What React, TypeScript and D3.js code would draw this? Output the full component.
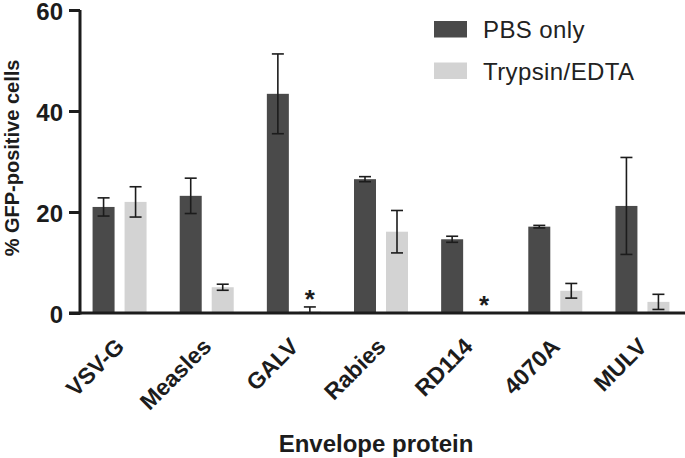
import React, { useEffect, useRef } from 'react';
import * as d3 from 'd3';

const categories = ['VSV-G', 'Measles', 'GALV', 'Rabies', 'RD114', '4070A', 'MULV'];
const seriesNames = ['PBS only', 'Trypsin/EDTA'];
const pbsMean = [21.0, 23.2, 43.4, 26.5, 14.6, 17.1, 21.2];
const pbsErr = [1.8, 3.5, 7.9, 0.5, 0.6, 0.25, 9.6];
const trypMean = [22.0, 5.1, 0.3, 16.1, 0, 4.4, 2.2];
const trypErr = [3.0, 0.6, 0.9, 4.2, 0, 1.45, 1.5];
const starred = ['GALV', 'RD114'];
const yTicks = [0, 20, 40, 60];

const colors = ['#4a4a4a', '#d3d3d3'];
const font = '"Liberation Sans", Arial, sans-serif';
const ink = '#1c1c1c';

const App = () => {
  const ref = useRef<SVGSVGElement>(null);

  useEffect(() => {
    const svg = d3.select(ref.current);
    svg.selectAll('*').remove();

    const x = d3.scaleBand().domain(categories).range([76, 686]);
    const inner = d3.scaleBand().domain(seriesNames).range([0, 54]).paddingInner(0.3125);
    const off = (x.bandwidth() - 54) / 2;
    const y = d3.scaleLinear().domain([0, 60]).range([313, 10]);

    const rows = categories.flatMap((c, i) => [
      { cat: c, s: seriesNames[0], v: pbsMean[i], e: pbsErr[i], k: 0 },
      { cat: c, s: seriesNames[1], v: trypMean[i], e: trypErr[i], k: 1 },
    ]);
    const bx = d => x(d.cat)! + off + inner(d.s)!;

    // bars
    svg.append('g').selectAll('rect')
      .data(rows)
      .join('rect')
        .attr('x', d => bx(d))
        .attr('y', d => y(d.v))
        .attr('width', inner.bandwidth())
        .attr('height', d => y(0) - y(d.v))
        .attr('fill', d => colors[d.k]);

    // error bars
    const eb = svg.append('g')
      .attr('stroke', ink)
      .attr('stroke-width', 1.6)
      .selectAll('g')
      .data(rows.filter(d => d.e > 0))
      .join('g')
        .attr('transform', d => `translate(${bx(d) + inner.bandwidth() / 2},0)`);
    eb.append('line')
      .attr('y1', d => y(d.v + d.e))
      .attr('y2', d => y(Math.max(0, d.v - d.e)));
    eb.append('line')
      .attr('x1', -6).attr('x2', 6)
      .attr('y1', d => y(d.v + d.e)).attr('y2', d => y(d.v + d.e));
    eb.filter(d => d.v - d.e > 0).append('line')
      .attr('x1', -6).attr('x2', 6)
      .attr('y1', d => y(d.v - d.e)).attr('y2', d => y(d.v - d.e));

    // significance stars
    svg.append('g').selectAll('text')
      .data(rows.filter(d => d.k === 1 && starred.includes(d.cat)))
      .join('text')
        .attr('x', d => bx(d) + inner.bandwidth() / 2)
        .attr('y', d => y(d.v + d.e) + 1)
        .attr('text-anchor', 'middle')
        .attr('font-family', font)
        .attr('font-size', 26)
        .attr('font-weight', 'bold')
        .attr('fill', ink)
        .text('*');

    // y axis
    const ya = svg.append('g')
      .attr('transform', 'translate(80,0)')
      .call(d3.axisLeft(y).tickValues(yTicks).tickSize(11).tickPadding(6));
    ya.select('.domain').attr('stroke', ink).attr('stroke-width', 3).attr('d', `M0,${y(60)}V${y(0) + 1.5}`);
    ya.selectAll('.tick line').attr('stroke', ink).attr('stroke-width', 3);
    ya.selectAll('.tick text')
      .attr('font-family', font).attr('font-size', 24).attr('font-weight', 'bold').attr('fill', ink)
      .attr('dy', '0.38em');

    // x axis
    svg.append('line')
      .attr('x1', 69).attr('x2', 685)
      .attr('y1', y(0)).attr('y2', y(0))
      .attr('stroke', ink).attr('stroke-width', 3);

    svg.append('g').selectAll('text')
      .data(categories)
      .join('text')
        .attr('transform', d => `translate(${x(d)! + x.bandwidth() / 2 + 6},348) rotate(-45)`)
        .attr('text-anchor', 'end')
        .attr('font-family', font)
        .attr('font-size', 23)
        .attr('font-weight', 'bold')
        .attr('fill', ink)
        .text(d => d);

    // axis titles
    svg.append('text')
      .attr('transform', 'translate(19,158) rotate(-90)')
      .attr('text-anchor', 'middle')
      .attr('font-family', font).attr('font-size', 20).attr('font-weight', 'bold').attr('fill', ink)
      .text('% GFP-positive cells');
    svg.append('text')
      .attr('x', 376).attr('y', 452)
      .attr('text-anchor', 'middle')
      .attr('font-family', font).attr('font-size', 24).attr('font-weight', 'bold').attr('fill', ink)
      .text('Envelope protein');

    // legend
    const legend = svg.append('g').attr('transform', 'translate(434,21)');
    legend.selectAll('rect')
      .data(seriesNames)
      .join('rect')
        .attr('x', 0)
        .attr('y', (d, i) => i * 41.5)
        .attr('width', 33)
        .attr('height', 16.5)
        .attr('fill', (d, i) => colors[i]);
    legend.selectAll('text')
      .data(seriesNames)
      .join('text')
        .attr('x', 49)
        .attr('y', (d, i) => i * 42 + 16.5)
        .attr('font-family', font)
        .attr('font-size', 24)
        .attr('letter-spacing', 0.4)
        .attr('fill', '#222')
        .text(d => d);
  }, []);

  return (
    <svg ref={ref} width={685} height={458}
      style={{ position: 'absolute', left: 0, top: 0, background: '#fff' }}></svg>
  );
};

export default App;
